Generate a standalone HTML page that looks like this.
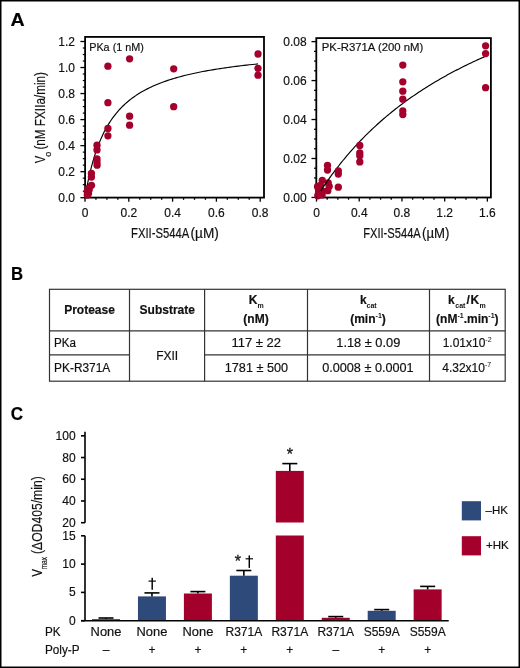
<!DOCTYPE html>
<html><head><meta charset="utf-8"><style>
html,body{margin:0;padding:0;background:#fff;}
svg{display:block;will-change:transform;}
text{font-family:"Liberation Sans", sans-serif;fill:#111;stroke:#111;stroke-width:0.18px;}
.t12{font-size:12px;}
tspan[font-size="7"]{stroke-width:0;}
.t115{font-size:11.5px;}
.t11{font-size:11px;}
.t13{font-size:13px;}
.ast{font-size:16px;stroke:#111;stroke-width:0.3px;}
.t14{font-size:14px;}
.b12{font-size:12px;font-weight:bold;}
.L{font-size:18px;font-weight:bold;fill:#000;}
</style></head><body>
<svg width="520" height="668" viewBox="0 0 520 668">
<rect x="0" y="0" width="520" height="668" fill="#fff"/>
<text transform="translate(10.47,25.8) scale(1.09,1)" class="L">A</text>
<text transform="translate(11.06,279.9) scale(0.93,1)" class="L">B</text>
<text transform="translate(10.73,420.3) scale(0.95,1)" class="L">C</text>
<rect x="85.1" y="36.9" width="178.9" height="160.7" fill="none" stroke="#000" stroke-width="1.8"/>
<line x1="80.4" y1="197.70" x2="85" y2="197.70" stroke="#000" stroke-width="1.3"/>
<text x="75" y="202.00" text-anchor="end" class="t12">0.0</text>
<line x1="82.8" y1="191.19" x2="85" y2="191.19" stroke="#000" stroke-width="1.2"/>
<line x1="82.8" y1="184.68" x2="85" y2="184.68" stroke="#000" stroke-width="1.2"/>
<line x1="82.8" y1="178.17" x2="85" y2="178.17" stroke="#000" stroke-width="1.2"/>
<line x1="80.4" y1="171.67" x2="85" y2="171.67" stroke="#000" stroke-width="1.3"/>
<text x="75" y="175.97" text-anchor="end" class="t12">0.2</text>
<line x1="82.8" y1="165.16" x2="85" y2="165.16" stroke="#000" stroke-width="1.2"/>
<line x1="82.8" y1="158.65" x2="85" y2="158.65" stroke="#000" stroke-width="1.2"/>
<line x1="82.8" y1="152.14" x2="85" y2="152.14" stroke="#000" stroke-width="1.2"/>
<line x1="80.4" y1="145.63" x2="85" y2="145.63" stroke="#000" stroke-width="1.3"/>
<text x="75" y="149.93" text-anchor="end" class="t12">0.4</text>
<line x1="82.8" y1="139.12" x2="85" y2="139.12" stroke="#000" stroke-width="1.2"/>
<line x1="82.8" y1="132.62" x2="85" y2="132.62" stroke="#000" stroke-width="1.2"/>
<line x1="82.8" y1="126.11" x2="85" y2="126.11" stroke="#000" stroke-width="1.2"/>
<line x1="80.4" y1="119.60" x2="85" y2="119.60" stroke="#000" stroke-width="1.3"/>
<text x="75" y="123.90" text-anchor="end" class="t12">0.6</text>
<line x1="82.8" y1="113.09" x2="85" y2="113.09" stroke="#000" stroke-width="1.2"/>
<line x1="82.8" y1="106.58" x2="85" y2="106.58" stroke="#000" stroke-width="1.2"/>
<line x1="82.8" y1="100.07" x2="85" y2="100.07" stroke="#000" stroke-width="1.2"/>
<line x1="80.4" y1="93.56" x2="85" y2="93.56" stroke="#000" stroke-width="1.3"/>
<text x="75" y="97.86" text-anchor="end" class="t12">0.8</text>
<line x1="82.8" y1="87.06" x2="85" y2="87.06" stroke="#000" stroke-width="1.2"/>
<line x1="82.8" y1="80.55" x2="85" y2="80.55" stroke="#000" stroke-width="1.2"/>
<line x1="82.8" y1="74.04" x2="85" y2="74.04" stroke="#000" stroke-width="1.2"/>
<line x1="80.4" y1="67.53" x2="85" y2="67.53" stroke="#000" stroke-width="1.3"/>
<text x="75" y="71.83" text-anchor="end" class="t12">1.0</text>
<line x1="82.8" y1="61.02" x2="85" y2="61.02" stroke="#000" stroke-width="1.2"/>
<line x1="82.8" y1="54.51" x2="85" y2="54.51" stroke="#000" stroke-width="1.2"/>
<line x1="82.8" y1="48.00" x2="85" y2="48.00" stroke="#000" stroke-width="1.2"/>
<line x1="80.4" y1="41.50" x2="85" y2="41.50" stroke="#000" stroke-width="1.3"/>
<text x="75" y="45.80" text-anchor="end" class="t12">1.2</text>
<line x1="85.00" y1="197.5" x2="85.00" y2="201.7" stroke="#000" stroke-width="1.3"/>
<text x="85.00" y="217" text-anchor="middle" class="t12">0</text>
<line x1="95.95" y1="197.5" x2="95.95" y2="199.8" stroke="#000" stroke-width="1.3"/>
<line x1="106.90" y1="197.5" x2="106.90" y2="199.8" stroke="#000" stroke-width="1.3"/>
<line x1="117.85" y1="197.5" x2="117.85" y2="199.8" stroke="#000" stroke-width="1.3"/>
<line x1="128.80" y1="197.5" x2="128.80" y2="201.7" stroke="#000" stroke-width="1.3"/>
<text x="128.80" y="217" text-anchor="middle" class="t12">0.2</text>
<line x1="139.75" y1="197.5" x2="139.75" y2="199.8" stroke="#000" stroke-width="1.3"/>
<line x1="150.70" y1="197.5" x2="150.70" y2="199.8" stroke="#000" stroke-width="1.3"/>
<line x1="161.65" y1="197.5" x2="161.65" y2="199.8" stroke="#000" stroke-width="1.3"/>
<line x1="172.60" y1="197.5" x2="172.60" y2="201.7" stroke="#000" stroke-width="1.3"/>
<text x="172.60" y="217" text-anchor="middle" class="t12">0.4</text>
<line x1="183.55" y1="197.5" x2="183.55" y2="199.8" stroke="#000" stroke-width="1.3"/>
<line x1="194.50" y1="197.5" x2="194.50" y2="199.8" stroke="#000" stroke-width="1.3"/>
<line x1="205.45" y1="197.5" x2="205.45" y2="199.8" stroke="#000" stroke-width="1.3"/>
<line x1="216.40" y1="197.5" x2="216.40" y2="201.7" stroke="#000" stroke-width="1.3"/>
<text x="216.40" y="217" text-anchor="middle" class="t12">0.6</text>
<line x1="227.35" y1="197.5" x2="227.35" y2="199.8" stroke="#000" stroke-width="1.3"/>
<line x1="238.30" y1="197.5" x2="238.30" y2="199.8" stroke="#000" stroke-width="1.3"/>
<line x1="249.25" y1="197.5" x2="249.25" y2="199.8" stroke="#000" stroke-width="1.3"/>
<line x1="260.20" y1="197.5" x2="260.20" y2="201.7" stroke="#000" stroke-width="1.3"/>
<text x="260.20" y="217" text-anchor="middle" class="t12">0.8</text>
<text x="89.2" y="50.6" class="t115" textLength="54.7" lengthAdjust="spacingAndGlyphs">PKa (1 nM)</text>
<polyline points="85.00,197.70 85.01,197.63 85.05,197.41 85.11,197.05 85.19,196.56 85.30,195.92 85.43,195.15 85.59,194.25 85.77,193.22 85.97,192.08 86.20,190.82 86.45,189.45 86.73,187.98 87.03,186.42 87.35,184.77 87.70,183.04 88.08,181.24 88.47,179.37 88.89,177.44 89.34,175.46 89.81,173.44 90.30,171.38 90.82,169.29 91.36,167.17 91.92,165.04 92.51,162.89 93.12,160.73 93.76,158.57 94.42,156.41 95.10,154.26 95.81,152.12 96.55,149.99 97.30,147.87 98.08,145.78 98.89,143.71 99.72,141.66 100.57,139.64 101.45,137.65 102.35,135.69 103.27,133.76 104.22,131.86 105.20,130.00 106.19,128.17 107.21,126.37 108.26,124.61 109.33,122.89 110.42,121.20 111.54,119.55 112.68,117.93 113.85,116.35 115.04,114.81 116.25,113.30 117.49,111.83 118.75,110.39 120.03,108.98 121.34,107.61 122.68,106.27 124.04,104.97 125.42,103.70 126.82,102.45 128.25,101.24 129.71,100.06 131.18,98.91 132.69,97.79 134.21,96.69 135.76,95.62 137.34,94.58 138.93,93.57 140.56,92.58 142.20,91.62 143.87,90.68 145.57,89.76 147.28,88.87 149.03,88.00 150.79,87.15 152.58,86.33 154.40,85.52 156.23,84.73 158.10,83.97 159.98,83.22 161.89,82.49 163.83,81.78 165.79,81.09 167.77,80.41 169.77,79.75 171.81,79.11 173.86,78.48 175.94,77.86 178.04,77.27 180.17,76.68 182.32,76.11 184.49,75.56 186.69,75.01 188.91,74.48 191.16,73.96 193.43,73.46 195.73,72.96 198.05,72.48 200.39,72.01 202.75,71.55 205.15,71.10 207.56,70.66 210.00,70.23 212.46,69.81 214.95,69.40 217.46,69.00 220.00,68.60 222.55,68.22 225.14,67.84 227.75,67.47 230.38,67.12 233.03,66.76 235.71,66.42 238.41,66.08 241.14,65.75 243.89,65.43 246.67,65.11 249.47,64.80 252.29,64.50 255.14,64.20 258.01,63.91" fill="none" stroke="#000" stroke-width="1.15"/>
<circle cx="107.9" cy="66.2" r="3.65" fill="#a3002b"/>
<circle cx="129.6" cy="58.8" r="3.65" fill="#a3002b"/>
<circle cx="173.7" cy="68.8" r="3.65" fill="#a3002b"/>
<circle cx="107.9" cy="102.7" r="3.65" fill="#a3002b"/>
<circle cx="173.7" cy="106.7" r="3.65" fill="#a3002b"/>
<circle cx="129.6" cy="116.2" r="3.65" fill="#a3002b"/>
<circle cx="129.6" cy="125.2" r="3.65" fill="#a3002b"/>
<circle cx="107.9" cy="128.5" r="3.65" fill="#a3002b"/>
<circle cx="107.9" cy="135.8" r="3.65" fill="#a3002b"/>
<circle cx="258" cy="54" r="3.65" fill="#a3002b"/>
<circle cx="258" cy="68.3" r="3.65" fill="#a3002b"/>
<circle cx="258" cy="75.2" r="3.65" fill="#a3002b"/>
<circle cx="97" cy="145.2" r="3.65" fill="#a3002b"/>
<circle cx="97" cy="149.9" r="3.65" fill="#a3002b"/>
<circle cx="97" cy="158.8" r="3.65" fill="#a3002b"/>
<circle cx="97" cy="162" r="3.65" fill="#a3002b"/>
<circle cx="97.1" cy="165.2" r="3.65" fill="#a3002b"/>
<circle cx="91.4" cy="173.3" r="3.65" fill="#a3002b"/>
<circle cx="91.4" cy="177.0" r="3.65" fill="#a3002b"/>
<circle cx="91.5" cy="185.3" r="3.65" fill="#a3002b"/>
<circle cx="88" cy="188.7" r="3.65" fill="#a3002b"/>
<circle cx="87.3" cy="191.8" r="3.65" fill="#a3002b"/>
<circle cx="87.3" cy="195" r="3.65" fill="#a3002b"/>
<circle cx="89.2" cy="189.7" r="3.65" fill="#a3002b"/>
<circle cx="88.5" cy="193.5" r="3.65" fill="#a3002b"/>
<text transform="translate(45.3,163.3) rotate(-90) scale(0.8,1)" class="t14">V</text>
<text transform="translate(50.5,156.8) rotate(-90)" font-size="9">o</text>
<text transform="translate(45.3,149.6) rotate(-90)" class="t14" textLength="77.6" lengthAdjust="spacingAndGlyphs">(nM FXIIa/min)</text>
<text x="131.0" y="238" class="t14" textLength="58.2" lengthAdjust="spacingAndGlyphs">FXII-S544A</text>
<text x="190.5" y="238" class="t14" textLength="28.3" lengthAdjust="spacingAndGlyphs">(µM)</text>
<rect x="316.3" y="38.1" width="174.6" height="159.4" fill="none" stroke="#000" stroke-width="1.8"/>
<line x1="311.5" y1="197.45" x2="316.5" y2="197.45" stroke="#000" stroke-width="1.3"/>
<text x="306.6" y="201.75" text-anchor="end" class="t12">0.00</text>
<line x1="314.0" y1="187.71" x2="316.5" y2="187.71" stroke="#000" stroke-width="1.2"/>
<line x1="314.0" y1="177.97" x2="316.5" y2="177.97" stroke="#000" stroke-width="1.2"/>
<line x1="314.0" y1="168.23" x2="316.5" y2="168.23" stroke="#000" stroke-width="1.2"/>
<line x1="311.5" y1="158.49" x2="316.5" y2="158.49" stroke="#000" stroke-width="1.3"/>
<text x="306.6" y="162.79" text-anchor="end" class="t12">0.02</text>
<line x1="314.0" y1="148.75" x2="316.5" y2="148.75" stroke="#000" stroke-width="1.2"/>
<line x1="314.0" y1="139.01" x2="316.5" y2="139.01" stroke="#000" stroke-width="1.2"/>
<line x1="314.0" y1="129.27" x2="316.5" y2="129.27" stroke="#000" stroke-width="1.2"/>
<line x1="311.5" y1="119.53" x2="316.5" y2="119.53" stroke="#000" stroke-width="1.3"/>
<text x="306.6" y="123.83" text-anchor="end" class="t12">0.04</text>
<line x1="314.0" y1="109.79" x2="316.5" y2="109.79" stroke="#000" stroke-width="1.2"/>
<line x1="314.0" y1="100.05" x2="316.5" y2="100.05" stroke="#000" stroke-width="1.2"/>
<line x1="314.0" y1="90.31" x2="316.5" y2="90.31" stroke="#000" stroke-width="1.2"/>
<line x1="311.5" y1="80.57" x2="316.5" y2="80.57" stroke="#000" stroke-width="1.3"/>
<text x="306.6" y="84.87" text-anchor="end" class="t12">0.06</text>
<line x1="314.0" y1="70.83" x2="316.5" y2="70.83" stroke="#000" stroke-width="1.2"/>
<line x1="314.0" y1="61.09" x2="316.5" y2="61.09" stroke="#000" stroke-width="1.2"/>
<line x1="314.0" y1="51.35" x2="316.5" y2="51.35" stroke="#000" stroke-width="1.2"/>
<line x1="311.5" y1="41.61" x2="316.5" y2="41.61" stroke="#000" stroke-width="1.3"/>
<text x="306.6" y="45.91" text-anchor="end" class="t12">0.08</text>
<line x1="316.50" y1="197.4" x2="316.50" y2="201.6" stroke="#000" stroke-width="1.3"/>
<text x="316.50" y="217" text-anchor="middle" class="t12">0</text>
<line x1="327.18" y1="197.4" x2="327.18" y2="199.7" stroke="#000" stroke-width="1.3"/>
<line x1="337.86" y1="197.4" x2="337.86" y2="199.7" stroke="#000" stroke-width="1.3"/>
<line x1="348.54" y1="197.4" x2="348.54" y2="199.7" stroke="#000" stroke-width="1.3"/>
<line x1="359.22" y1="197.4" x2="359.22" y2="201.6" stroke="#000" stroke-width="1.3"/>
<text x="359.22" y="217" text-anchor="middle" class="t12">0.4</text>
<line x1="369.90" y1="197.4" x2="369.90" y2="199.7" stroke="#000" stroke-width="1.3"/>
<line x1="380.58" y1="197.4" x2="380.58" y2="199.7" stroke="#000" stroke-width="1.3"/>
<line x1="391.26" y1="197.4" x2="391.26" y2="199.7" stroke="#000" stroke-width="1.3"/>
<line x1="401.94" y1="197.4" x2="401.94" y2="201.6" stroke="#000" stroke-width="1.3"/>
<text x="401.94" y="217" text-anchor="middle" class="t12">0.8</text>
<line x1="412.62" y1="197.4" x2="412.62" y2="199.7" stroke="#000" stroke-width="1.3"/>
<line x1="423.30" y1="197.4" x2="423.30" y2="199.7" stroke="#000" stroke-width="1.3"/>
<line x1="433.98" y1="197.4" x2="433.98" y2="199.7" stroke="#000" stroke-width="1.3"/>
<line x1="444.66" y1="197.4" x2="444.66" y2="201.6" stroke="#000" stroke-width="1.3"/>
<text x="444.66" y="217" text-anchor="middle" class="t12">1.2</text>
<line x1="455.34" y1="197.4" x2="455.34" y2="199.7" stroke="#000" stroke-width="1.3"/>
<line x1="466.02" y1="197.4" x2="466.02" y2="199.7" stroke="#000" stroke-width="1.3"/>
<line x1="476.70" y1="197.4" x2="476.70" y2="199.7" stroke="#000" stroke-width="1.3"/>
<line x1="487.38" y1="197.4" x2="487.38" y2="201.6" stroke="#000" stroke-width="1.3"/>
<text x="487.38" y="217" text-anchor="middle" class="t12">1.6</text>
<text x="321.8" y="50.7" class="t115" textLength="101.5" lengthAdjust="spacingAndGlyphs">PK-R371A (200 nM)</text>
<circle cx="322.3" cy="180.3" r="3.65" fill="#a3002b"/>
<circle cx="328.2" cy="182.8" r="3.65" fill="#a3002b"/>
<circle cx="329.2" cy="186.3" r="3.65" fill="#a3002b"/>
<circle cx="320.4" cy="185.4" r="3.65" fill="#a3002b"/>
<circle cx="317.6" cy="186.5" r="3.65" fill="#a3002b"/>
<circle cx="318.5" cy="189.5" r="3.65" fill="#a3002b"/>
<circle cx="322.2" cy="190.8" r="3.65" fill="#a3002b"/>
<circle cx="327.8" cy="190.7" r="3.65" fill="#a3002b"/>
<circle cx="322.1" cy="194.9" r="3.65" fill="#a3002b"/>
<circle cx="317.8" cy="195.8" r="3.65" fill="#a3002b"/>
<circle cx="327.5" cy="165.3" r="3.65" fill="#a3002b"/>
<circle cx="327.5" cy="170" r="3.65" fill="#a3002b"/>
<polyline points="316.50,197.45 317.90,195.23 319.31,193.04 320.71,190.88 322.12,188.76 323.52,186.66 324.93,184.60 326.33,182.56 327.74,180.56 329.14,178.58 330.54,176.63 331.95,174.71 333.35,172.81 334.76,170.94 336.16,169.10 337.57,167.28 338.97,165.48 340.38,163.71 341.78,161.97 343.18,160.24 344.59,158.54 345.99,156.86 347.40,155.20 348.80,153.57 350.21,151.95 351.61,150.36 353.01,148.78 354.42,147.23 355.82,145.69 357.23,144.18 358.63,142.68 360.04,141.20 361.44,139.74 362.85,138.29 364.25,136.87 365.65,135.46 367.06,134.07 368.46,132.69 369.87,131.33 371.27,129.99 372.68,128.66 374.08,127.34 375.49,126.05 376.89,124.76 378.29,123.49 379.70,122.24 381.10,121.00 382.51,119.77 383.91,118.56 385.32,117.36 386.72,116.17 388.13,115.00 389.53,113.84 390.93,112.69 392.34,111.56 393.74,110.43 395.15,109.32 396.55,108.22 397.96,107.13 399.36,106.05 400.77,104.99 402.17,103.93 403.57,102.89 404.98,101.86 406.38,100.83 407.79,99.82 409.19,98.82 410.60,97.83 412.00,96.84 413.40,95.87 414.81,94.91 416.21,93.95 417.62,93.01 419.02,92.08 420.43,91.15 421.83,90.23 423.24,89.32 424.64,88.42 426.04,87.53 427.45,86.65 428.85,85.78 430.26,84.91 431.66,84.05 433.07,83.20 434.47,82.36 435.88,81.53 437.28,80.70 438.68,79.88 440.09,79.07 441.49,78.26 442.90,77.47 444.30,76.68 445.71,75.89 447.11,75.12 448.52,74.35 449.92,73.59 451.32,72.83 452.73,72.08 454.13,71.34 455.54,70.60 456.94,69.87 458.35,69.15 459.75,68.43 461.16,67.72 462.56,67.01 463.96,66.31 465.37,65.62 466.77,64.93 468.18,64.25 469.58,63.57 470.99,62.90 472.39,62.24 473.80,61.58 475.20,60.92 476.60,60.27 478.01,59.63 479.41,58.99 480.82,58.36 482.22,57.73 483.63,57.11 485.03,56.49" fill="none" stroke="#000" stroke-width="1.15"/>
<circle cx="485.6" cy="45.8" r="3.65" fill="#a3002b"/>
<circle cx="485.6" cy="53.6" r="3.65" fill="#a3002b"/>
<circle cx="485.6" cy="87.7" r="3.65" fill="#a3002b"/>
<circle cx="402.8" cy="65.1" r="3.65" fill="#a3002b"/>
<circle cx="402.8" cy="81.8" r="3.65" fill="#a3002b"/>
<circle cx="402.8" cy="91.2" r="3.65" fill="#a3002b"/>
<circle cx="402.8" cy="99.2" r="3.65" fill="#a3002b"/>
<circle cx="402.8" cy="110.8" r="3.65" fill="#a3002b"/>
<circle cx="402.8" cy="114.6" r="3.65" fill="#a3002b"/>
<circle cx="359.8" cy="145.5" r="3.65" fill="#a3002b"/>
<circle cx="359.8" cy="152.9" r="3.65" fill="#a3002b"/>
<circle cx="359.8" cy="155.8" r="3.65" fill="#a3002b"/>
<circle cx="359.8" cy="161.9" r="3.65" fill="#a3002b"/>
<circle cx="338.3" cy="171" r="3.65" fill="#a3002b"/>
<circle cx="338.3" cy="174.1" r="3.65" fill="#a3002b"/>
<circle cx="338.3" cy="187.2" r="3.65" fill="#a3002b"/>
<circle cx="318.4" cy="193.6" r="3.65" fill="#a3002b"/>
<text x="363.2" y="238" class="t14" textLength="57.6" lengthAdjust="spacingAndGlyphs">FXII-S544A</text>
<text x="422.0" y="238" class="t14" textLength="27.4" lengthAdjust="spacingAndGlyphs">(µM)</text>
<rect x="49.5" y="289.3" width="455.7" height="91.9" fill="none" stroke="#333" stroke-width="1.2"/>
<line x1="129.5" y1="289.3" x2="129.5" y2="381.2" stroke="#333" stroke-width="1.2"/>
<line x1="204.6" y1="289.3" x2="204.6" y2="381.2" stroke="#333" stroke-width="1.2"/>
<line x1="307.5" y1="289.3" x2="307.5" y2="381.2" stroke="#333" stroke-width="1.2"/>
<line x1="429.5" y1="289.3" x2="429.5" y2="381.2" stroke="#333" stroke-width="1.2"/>
<line x1="49.5" y1="330.8" x2="505.2" y2="330.8" stroke="#333" stroke-width="1.2"/>
<line x1="49.5" y1="354.8" x2="129.5" y2="354.8" stroke="#333" stroke-width="1.2"/>
<line x1="204.6" y1="354.8" x2="505.2" y2="354.8" stroke="#333" stroke-width="1.2"/>
<text x="89.5" y="314.2" text-anchor="middle" class="b12">Protease</text>
<text x="167.3" y="313.6" text-anchor="middle" class="b12">Substrate</text>
<text x="256.3" y="303.8" text-anchor="middle" class="b12">K<tspan font-size="7" dy="4">m</tspan></text>
<text x="256" y="323.4" text-anchor="middle" class="b12">(nM)</text>
<text x="368.3" y="303.8" text-anchor="middle" class="b12">k<tspan font-size="7" dy="4">cat</tspan></text>
<text x="368" y="323.4" text-anchor="middle" class="b12">(min<tspan font-size="7" dy="-5">-1</tspan><tspan dy="5">)</tspan></text>
<text y="303.8" class="b12"><tspan x="448">k</tspan><tspan x="455.3" font-size="7" dy="4">cat</tspan><tspan x="466.5" dy="-4">/</tspan><tspan x="470.6">K</tspan><tspan x="479.6" font-size="7" dy="4">m</tspan></text>
<text x="467.3" y="323.4" text-anchor="middle" class="b12">(nM<tspan font-size="7" dy="-5">-1</tspan><tspan dy="5">.min</tspan><tspan font-size="7" dy="-5">-1</tspan><tspan dy="5">)</tspan></text>
<text x="54.1" y="347" class="t12" textLength="22" lengthAdjust="spacingAndGlyphs">PKa</text>
<text x="54.1" y="371.9" class="t12" textLength="56.2" lengthAdjust="spacingAndGlyphs">PK-R371A</text>
<text x="167.2" y="359.7" text-anchor="middle" class="t12">FXII</text>
<text x="256.2" y="346.6" text-anchor="middle" class="t12" textLength="49.6" lengthAdjust="spacingAndGlyphs">117 ± 22</text>
<text x="256.4" y="371.8" text-anchor="middle" class="t12" textLength="63.2" lengthAdjust="spacingAndGlyphs">1781 ± 500</text>
<text x="368.3" y="346.6" text-anchor="middle" class="t12" textLength="64" lengthAdjust="spacingAndGlyphs">1.18 ± 0.09</text>
<text x="367.9" y="371.8" text-anchor="middle" class="t12" textLength="91.5" lengthAdjust="spacingAndGlyphs">0.0008 ± 0.0001</text>
<text x="467.1" y="346.6" text-anchor="middle" class="t12">1.01x10<tspan font-size="7" dy="-5">-2</tspan></text>
<text x="466.7" y="371.8" text-anchor="middle" class="t12">4.32x10<tspan font-size="7" dy="-5">-7</tspan></text>
<line x1="85" y1="431.7" x2="85" y2="522.70" stroke="#000" stroke-width="1.6"/>
<line x1="81" y1="522.70" x2="85" y2="522.70" stroke="#000" stroke-width="1.6"/>
<text x="75.6" y="526.70" text-anchor="end" class="t12">20</text>
<line x1="81" y1="500.97" x2="85" y2="500.97" stroke="#000" stroke-width="1.6"/>
<text x="75.6" y="504.97" text-anchor="end" class="t12">40</text>
<line x1="81" y1="479.25" x2="85" y2="479.25" stroke="#000" stroke-width="1.6"/>
<text x="75.6" y="483.25" text-anchor="end" class="t12">60</text>
<line x1="81" y1="457.52" x2="85" y2="457.52" stroke="#000" stroke-width="1.6"/>
<text x="75.6" y="461.52" text-anchor="end" class="t12">80</text>
<line x1="81" y1="435.80" x2="85" y2="435.80" stroke="#000" stroke-width="1.6"/>
<text x="75.6" y="439.80" text-anchor="end" class="t12">100</text>
<line x1="85" y1="535.80" x2="85" y2="620.7" stroke="#000" stroke-width="1.6"/>
<line x1="81" y1="620.70" x2="85" y2="620.70" stroke="#000" stroke-width="1.6"/>
<text x="75.6" y="624.70" text-anchor="end" class="t12">0</text>
<line x1="81" y1="592.40" x2="85" y2="592.40" stroke="#000" stroke-width="1.6"/>
<text x="75.6" y="596.40" text-anchor="end" class="t12">5</text>
<line x1="81" y1="564.10" x2="85" y2="564.10" stroke="#000" stroke-width="1.6"/>
<text x="75.6" y="568.10" text-anchor="end" class="t12">10</text>
<line x1="81" y1="535.80" x2="85" y2="535.80" stroke="#000" stroke-width="1.6"/>
<text x="75.6" y="539.80" text-anchor="end" class="t12">15</text>
<rect x="92.00" y="619.1" width="28" height="1.60" fill="#2e4a7b"/>
<line x1="106.00" y1="618.0" x2="106.00" y2="619.1" stroke="#000" stroke-width="1.6"/>
<line x1="98.50" y1="618.0" x2="113.50" y2="618.0" stroke="#000" stroke-width="1.6"/>
<text x="106.00" y="635.6" text-anchor="middle" class="t12" textLength="30.8" lengthAdjust="spacingAndGlyphs">None</text>
<text x="106.00" y="653.5" text-anchor="middle" class="t12">–</text>
<rect x="137.95" y="596.4" width="28" height="24.30" fill="#2e4a7b"/>
<line x1="151.95" y1="592.9" x2="151.95" y2="596.4" stroke="#000" stroke-width="1.6"/>
<line x1="144.45" y1="592.9" x2="159.45" y2="592.9" stroke="#000" stroke-width="1.6"/>
<text x="151.95" y="635.6" text-anchor="middle" class="t12" textLength="30.8" lengthAdjust="spacingAndGlyphs">None</text>
<text x="151.95" y="653.5" text-anchor="middle" class="t12">+</text>
<rect x="183.90" y="593.5" width="28" height="27.20" fill="#a3002b"/>
<line x1="197.90" y1="591.6" x2="197.90" y2="593.5" stroke="#000" stroke-width="1.6"/>
<line x1="190.40" y1="591.6" x2="205.40" y2="591.6" stroke="#000" stroke-width="1.6"/>
<text x="197.90" y="635.6" text-anchor="middle" class="t12" textLength="30.8" lengthAdjust="spacingAndGlyphs">None</text>
<text x="197.90" y="653.5" text-anchor="middle" class="t12">+</text>
<rect x="229.85" y="575.7" width="28" height="45.00" fill="#2e4a7b"/>
<line x1="243.85" y1="570.5" x2="243.85" y2="575.7" stroke="#000" stroke-width="1.6"/>
<line x1="236.35" y1="570.5" x2="251.35" y2="570.5" stroke="#000" stroke-width="1.6"/>
<text x="243.85" y="635.6" text-anchor="middle" class="t12">R371A</text>
<text x="243.85" y="653.5" text-anchor="middle" class="t12">+</text>
<rect x="275.80" y="535.5" width="28" height="85.20" fill="#a3002b"/>
<rect x="275.80" y="470.9" width="28" height="51.60" fill="#a3002b"/>
<line x1="289.80" y1="463.6" x2="289.80" y2="470.9" stroke="#000" stroke-width="1.6"/>
<line x1="282.30" y1="463.6" x2="297.30" y2="463.6" stroke="#000" stroke-width="1.6"/>
<text x="289.80" y="635.6" text-anchor="middle" class="t12">R371A</text>
<text x="289.80" y="653.5" text-anchor="middle" class="t12">+</text>
<rect x="321.75" y="617.8" width="28" height="2.90" fill="#a3002b"/>
<line x1="335.75" y1="616.6" x2="335.75" y2="617.8" stroke="#000" stroke-width="1.6"/>
<line x1="328.25" y1="616.6" x2="343.25" y2="616.6" stroke="#000" stroke-width="1.6"/>
<text x="335.75" y="635.6" text-anchor="middle" class="t12">R371A</text>
<text x="335.75" y="653.5" text-anchor="middle" class="t12">–</text>
<rect x="367.70" y="610.8" width="28" height="9.90" fill="#2e4a7b"/>
<line x1="381.70" y1="609.6" x2="381.70" y2="610.8" stroke="#000" stroke-width="1.6"/>
<line x1="374.20" y1="609.6" x2="389.20" y2="609.6" stroke="#000" stroke-width="1.6"/>
<text x="381.70" y="635.6" text-anchor="middle" class="t12">S559A</text>
<text x="381.70" y="653.5" text-anchor="middle" class="t12">+</text>
<rect x="413.65" y="589.4" width="28" height="31.30" fill="#a3002b"/>
<line x1="427.65" y1="586.4" x2="427.65" y2="589.4" stroke="#000" stroke-width="1.6"/>
<line x1="420.15" y1="586.4" x2="435.15" y2="586.4" stroke="#000" stroke-width="1.6"/>
<text x="427.65" y="635.6" text-anchor="middle" class="t12">S559A</text>
<text x="427.65" y="653.5" text-anchor="middle" class="t12">+</text>
<line x1="81" y1="620.7" x2="448.7" y2="620.7" stroke="#000" stroke-width="1.6"/>
<text x="45.0" y="635.6" class="t12" textLength="15.6" lengthAdjust="spacingAndGlyphs">PK</text>
<text x="45.0" y="654" class="t12" textLength="34.6" lengthAdjust="spacingAndGlyphs">Poly-P</text>
<line x1="152.2" y1="577.7" x2="152.2" y2="589.7" stroke="#000" stroke-width="1.45"/>
<line x1="148.5" y1="581.1" x2="155.89999999999998" y2="581.1" stroke="#000" stroke-width="1.15"/>
<line x1="249.3" y1="555.4" x2="249.3" y2="567.9" stroke="#000" stroke-width="1.45"/>
<line x1="245.60000000000002" y1="558.8" x2="253.0" y2="558.8" stroke="#000" stroke-width="1.15"/>
<text x="237.8" y="566.8" text-anchor="middle" class="ast">*</text>
<text x="289.8" y="460.4" text-anchor="middle" class="ast">*</text>
<rect x="461.8" y="501.2" width="19.2" height="19.2" fill="#2e4a7b"/>
<rect x="461.8" y="536.2" width="19.2" height="19.2" fill="#a3002b"/>
<text x="485.5" y="514.2" class="t115">–HK</text>
<text x="486.0" y="549.2" class="t115">+HK</text>
<text transform="translate(41.8,576.7) rotate(-90) scale(0.83,1)" class="t14">V</text>
<text transform="translate(47.2,569.3) rotate(-90)" font-size="9" textLength="12.3" lengthAdjust="spacingAndGlyphs">max</text>
<text transform="translate(41.8,554.0) rotate(-90)" class="t14" textLength="77.7" lengthAdjust="spacingAndGlyphs">(ΔOD405/min)</text>
<rect x="0.75" y="0.75" width="518.5" height="666.5" fill="none" stroke="#000" stroke-width="1.5"/>
</svg>
</body></html>
